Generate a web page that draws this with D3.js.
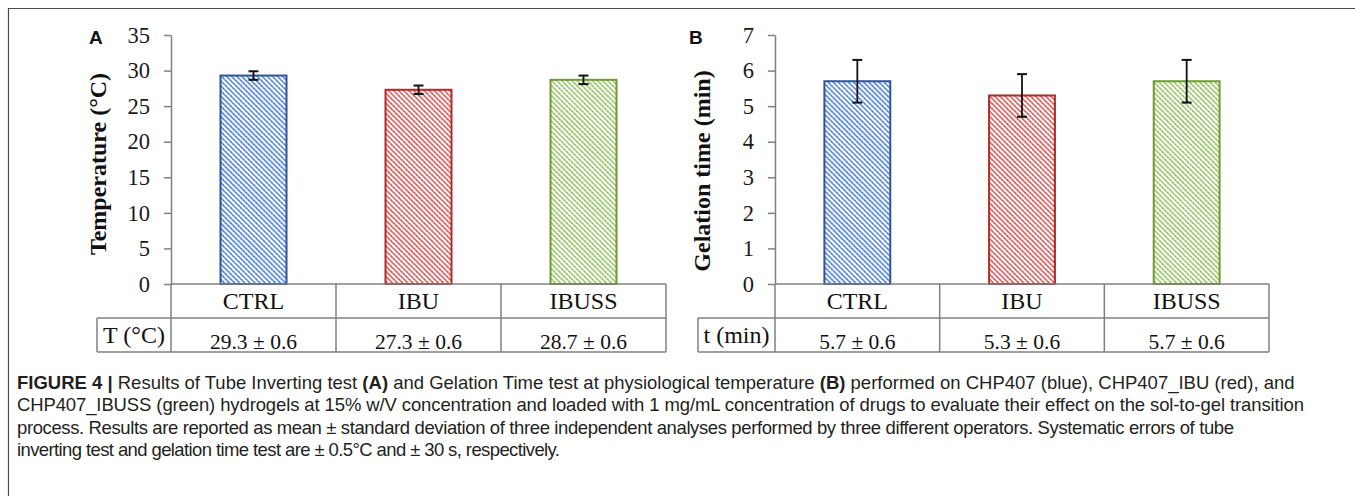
<!DOCTYPE html>
<html><head><meta charset="utf-8">
<script src="https://cdn.jsdelivr.net/npm/d3@7"></script>
<style>body{margin:0;background:#fff}svg{display:block}</style>
</head><body>
<svg id="chart" width="1355" height="496"></svg>
<script>
// ---------- data ----------
const categories = ["CTRL", "IBU", "IBUSS"];
const tempMeans = [29.3, 27.3, 28.7];
const tempSD = [0.6, 0.6, 0.6];
const gelMeans = [5.7, 5.3, 5.7];
const gelSD = [0.6, 0.6, 0.6];
const tempTicks = [0, 5, 10, 15, 20, 25, 30, 35];
const gelTicks = [0, 1, 2, 3, 4, 5, 6, 7];
const tempTableLabels = ["29.3 ± 0.6", "27.3 ± 0.6", "28.7 ± 0.6"];
const gelTableLabels = ["5.7 ± 0.6", "5.3 ± 0.6", "5.7 ± 0.6"];
const captionLines = [
  [["FIGURE 4 | ", true], ["Results of Tube Inverting test ", false], ["(A)", true], [" and Gelation Time test at physiological temperature ", false], ["(B)", true], [" performed on CHP407 (blue), CHP407_IBU (red), and", false]],
  [["CHP407_IBUSS (green) hydrogels at 15% w/V concentration and loaded with 1 mg/mL concentration of drugs to evaluate their effect on the sol-to-gel transition", false]],
  [["process. Results are reported as mean ± standard deviation of three independent analyses performed by three different operators. Systematic errors of tube", false]],
  [["inverting test and gelation time test are ± 0.5°C and ± 30 s, respectively.", false]]
];
const captionWidths = [1278, 1287, 1217, 543];

// ---------- styles ----------
const barStroke = ["#2f5597", "#b42a2a", "#6f9b32"];
const hatchLight = ["#6d9be3", "#e27777", "#afd486"];
const hatchDark = ["#2d63c4", "#c03535", "#74a83c"];
const serif = "'Liberation Serif','Times New Roman',serif";
const gridCol = "#808080";

const svg = d3.select("#chart");
const defs = svg.append("defs");
categories.forEach((c, i) => {
  const s = 3.6;
  const p = defs.append("pattern").attr("id", "hatch" + i)
    .attr("patternUnits", "userSpaceOnUse").attr("width", s).attr("height", s)
    .attr("patternTransform", "rotate(45)");
  p.append("rect").attr("width", s).attr("height", s).attr("fill", "#fff");
  p.append("line").attr("x1", 0).attr("x2", s).attr("y1", s / 2).attr("y2", s / 2)
    .attr("stroke", hatchLight[i]).attr("stroke-width", 1.7);
  p.append("circle").attr("cx", 0.9).attr("cy", s / 2).attr("r", 0.7).attr("fill", hatchDark[i]);
});

// figure frame (top & left edges)
svg.append("line").attr("x1", 8).attr("x2", 1355).attr("y1", 8.5).attr("y2", 8.5).attr("stroke", "#4a4a4a").attr("stroke-width", 1.2);
svg.append("line").attr("x1", 8.5).attr("x2", 8.5).attr("y1", 8).attr("y2", 496).attr("stroke", "#4a4a4a").attr("stroke-width", 1.2);

function panel(cfg) {
  const g = svg.append("g");
  const y = d3.scaleLinear().domain([0, cfg.max]).range([284, 35]);
  const x = d3.scaleBand().domain(categories).range([cfg.axisX, cfg.right]).padding(0);
  const bw = x.bandwidth() * 0.4;

  // bars
  g.selectAll("rect.bar").data(cfg.means).join("rect")
    .attr("x", (d, i) => x(categories[i]) + x.bandwidth() / 2 - bw / 2)
    .attr("y", d => y(d))
    .attr("width", bw)
    .attr("height", d => y(0) - y(d))
    .attr("fill", (d, i) => `url(#hatch${i})`)
    .attr("stroke", (d, i) => barStroke[i]).attr("stroke-width", 2);

  // error bars
  const eb = g.selectAll("g.err").data(cfg.means).join("g");
  const cx = i => x(categories[i]) + x.bandwidth() / 2;
  eb.append("line").attr("x1", (d, i) => cx(i)).attr("x2", (d, i) => cx(i))
    .attr("y1", (d, i) => y(d + cfg.sd[i])).attr("y2", (d, i) => y(d - cfg.sd[i]))
    .attr("stroke", "#111").attr("stroke-width", 1.8);
  [1, -1].forEach(sg => {
    eb.append("line").attr("x1", (d, i) => cx(i) - 5).attr("x2", (d, i) => cx(i) + 5)
      .attr("y1", (d, i) => y(d + sg * cfg.sd[i])).attr("y2", (d, i) => y(d + sg * cfg.sd[i]))
      .attr("stroke", "#111").attr("stroke-width", 2);
  });

  // y axis
  const ax = g.append("g").attr("transform", `translate(${cfg.axisX},0)`)
    .call(d3.axisLeft(y).tickValues(cfg.ticks).tickSize(7).tickSizeOuter(0).tickPadding(14).tickFormat(d3.format("d")));
  ax.select(".domain").attr("stroke", gridCol).attr("stroke-width", 1.5);
  ax.selectAll(".tick line").attr("stroke", gridCol).attr("stroke-width", 1.5);
  ax.selectAll(".tick text").attr("font-family", serif).attr("font-size", 22.5).attr("fill", "#1a1a1a");

  // table
  const t = g.append("g").attr("stroke", gridCol).attr("stroke-width", 1.5).attr("fill", "none");
  t.append("line").attr("x1", cfg.axisX).attr("x2", cfg.right).attr("y1", 284).attr("y2", 284);
  t.append("line").attr("x1", cfg.labelLeft).attr("x2", cfg.right).attr("y1", 318).attr("y2", 318);
  t.append("line").attr("x1", cfg.labelLeft).attr("x2", cfg.right).attr("y1", 352).attr("y2", 352);
  t.append("line").attr("x1", cfg.labelLeft).attr("x2", cfg.labelLeft).attr("y1", 318).attr("y2", 352);
  t.append("line").attr("x1", cfg.axisX).attr("x2", cfg.axisX).attr("y1", 284).attr("y2", 352);
  categories.forEach(c => {
    t.append("line").attr("x1", x(c) + x.bandwidth()).attr("x2", x(c) + x.bandwidth()).attr("y1", 284).attr("y2", 352);
  });
  g.selectAll("text.cat").data(categories).join("text")
    .attr("x", d => x(d) + x.bandwidth() / 2).attr("y", 309)
    .attr("text-anchor", "middle").attr("font-family", serif).attr("font-size", 24).attr("fill", "#111").text(d => d);
  g.selectAll("text.val").data(cfg.tableLabels).join("text")
    .attr("x", (d, i) => x(categories[i]) + x.bandwidth() / 2).attr("y", 349)
    .attr("text-anchor", "middle").attr("font-family", serif).attr("font-size", 21.5).attr("fill", "#111").text(d => d);
  g.append("text").attr("x", (cfg.labelLeft + cfg.axisX) / 2).attr("y", 343)
    .attr("text-anchor", "middle").attr("font-family", serif).attr("font-size", 24).attr("fill", "#111").text(cfg.rowLabel);

  // titles
  g.append("text").attr("transform", `translate(${cfg.titleX},${cfg.titleY}) rotate(-90)`)
    .attr("text-anchor", "middle").attr("font-family", serif).attr("font-weight", "bold")
    .attr("font-size", 24).attr("fill", "#111").text(cfg.title);
  g.append("text").attr("x", cfg.letterX).attr("y", 44)
    .attr("font-family", "'Liberation Sans',Arial,sans-serif").attr("font-weight", "bold")
    .attr("font-size", 19).attr("fill", "#111").text(cfg.letter);
}

panel({ max: 35, ticks: tempTicks, means: tempMeans, sd: tempSD, axisX: 171, right: 666, labelLeft: 97,
  tableLabels: tempTableLabels, rowLabel: "T (°C)", title: "Temperature (°C)", titleX: 106, titleY: 164, letter: "A", letterX: 89 });
panel({ max: 7, ticks: gelTicks, means: gelMeans, sd: gelSD, axisX: 775, right: 1269, labelLeft: 698,
  tableLabels: gelTableLabels, rowLabel: "t (min)", title: "Gelation time (min)", titleX: 710, titleY: 171, letter: "B", letterX: 689 });

// caption
const cap = svg.append("g");
const capTexts = captionLines.map((line, li) => {
  const t = cap.append("text").attr("x", 0).attr("y", 389 + li * 22.4)
    .attr("font-family", "'Liberation Sans',Arial,sans-serif").attr("font-size", 17.5).attr("fill", "#231f20");
  line.forEach(([s, b]) => t.append("tspan").attr("font-weight", b ? "bold" : "normal").text(s));
  return t;
});
const w0 = capTexts[0].node().getComputedTextLength();
const sx = captionWidths[0] / w0;
capTexts.forEach((t, i) => {
  if (i > 0) t.attr("textLength", captionWidths[i] / sx).attr("lengthAdjust", "spacing");
});
cap.attr("transform", `translate(17,0) scale(${sx},1)`);
</script>
</body></html>
